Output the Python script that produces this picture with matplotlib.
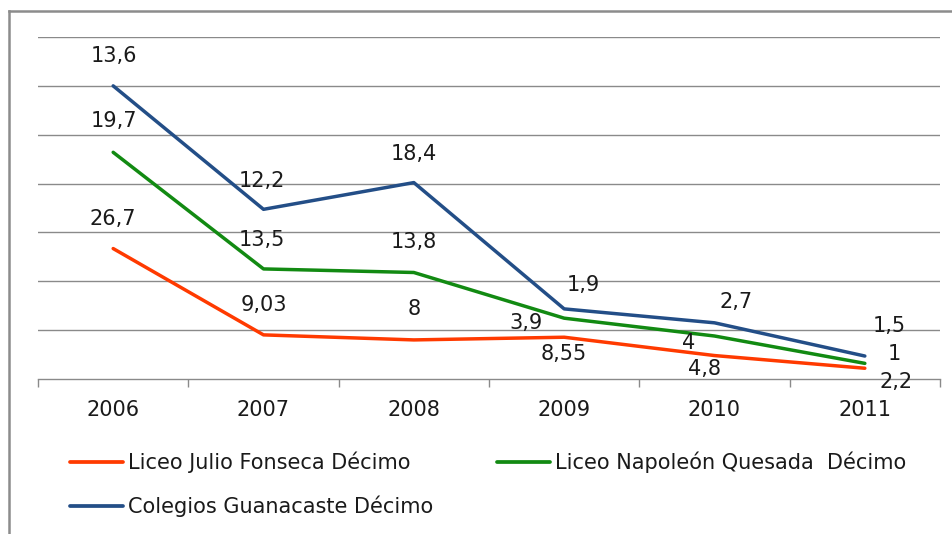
import numpy as np
import matplotlib.pyplot as plt
from matplotlib.lines import Line2D

# data (stacked line chart, labels show each series' own value)
years = ["2006", "2007", "2008", "2009", "2010", "2011"]
fonseca = [26.7, 9.03, 8, 8.55, 4.8, 2.2]
quesada = [19.7, 13.5, 13.8, 3.9, 4, 1]
guanacaste = [13.6, 12.2, 18.4, 1.9, 2.7, 1.5]
series_names = ["Liceo Julio Fonseca Décimo",
                "Liceo Napoleón Quesada  Décimo",
                "Colegios Guanacaste Décimo"]
colors = ["#FF3A00", "#128A12", "#234E87"]

# label offsets in pixels (dx, dy) from each point, per series
label_offsets = [
    [(0, 30), (0, 30), (0, 31), (0, -17), (-10, -13), (31, -14)],
    [(1, 31), (-2, 29), (0, 30), (-38, -5), (-26, -7), (29, 9)],
    [(1, 30), (-2, 28), (0, 29), (19, 24), (22, 21), (24, 30)],
]

W, H = 953, 534
fs = 15
fig = plt.figure(figsize=(W / 100, H / 100), dpi=100)
ax = fig.add_axes([38 / W, 1 - 379 / H, 902 / W, (379 - 37) / H])

x = np.arange(len(years))
values = [fonseca, quesada, guanacaste]
stacked = np.cumsum(np.array(values), axis=0)

for i in range(3):
    ax.plot(x, stacked[i], color=colors[i], lw=2.5, solid_capstyle="round",
            solid_joinstyle="round", zorder=3)
    for j in range(len(years)):
        txt = f"{values[i][j]:g}".replace(".", ",")
        ax.annotate(txt, (x[j], stacked[i][j]), xytext=label_offsets[i][j],
                    textcoords="offset pixels", ha="center", va="center",
                    fontsize=fs, color="#1a1a1a", zorder=4)

ax.set_xlim(-0.5, len(years) - 0.5)
ax.set_ylim(0, 70)
ax.set_yticks(np.arange(10, 71, 10))
ax.yaxis.grid(True, color="#8a8a8a", lw=1)
ax.set_axisbelow(True)
ax.tick_params(axis="y", length=0, labelleft=False)

ax.set_xticks(x)
ax.set_xticklabels(years, fontsize=fs, color="#1a1a1a")
ax.set_xticks(np.arange(-0.5, len(years), 1), minor=True)
ax.tick_params(axis="x", which="major", length=0, pad=15)
ax.tick_params(axis="x", which="minor", length=6, color="#8a8a8a", width=1)

for s in ["top", "right", "left"]:
    ax.spines[s].set_visible(False)
ax.spines["bottom"].set_color("#8a8a8a")
ax.spines["bottom"].set_linewidth(1)

# legend entries placed below the plot
legend_pos = [(70, 462), (497, 462), (70, 506)]
for i in range(3):
    lx, ly = legend_pos[i]
    fig.add_artist(Line2D([lx / W, (lx + 53) / W], [1 - ly / H, 1 - ly / H],
                          transform=fig.transFigure, color=colors[i], lw=2.7,
                          solid_capstyle="round"))
    fig.text((lx + 58) / W, 1 - ly / H, series_names[i], fontsize=fs,
             color="#1a1a1a", va="center", ha="left")

# outer frame (only top and left edges visible)
fig.add_artist(Line2D([9 / W, 1], [1 - 11 / H, 1 - 11 / H],
                      transform=fig.transFigure, color="#8c8c8c", lw=1.8))
fig.add_artist(Line2D([9 / W, 9 / W], [0, 1 - 11 / H],
                      transform=fig.transFigure, color="#8c8c8c", lw=1.8))

fig.savefig("out.png", dpi=100)
